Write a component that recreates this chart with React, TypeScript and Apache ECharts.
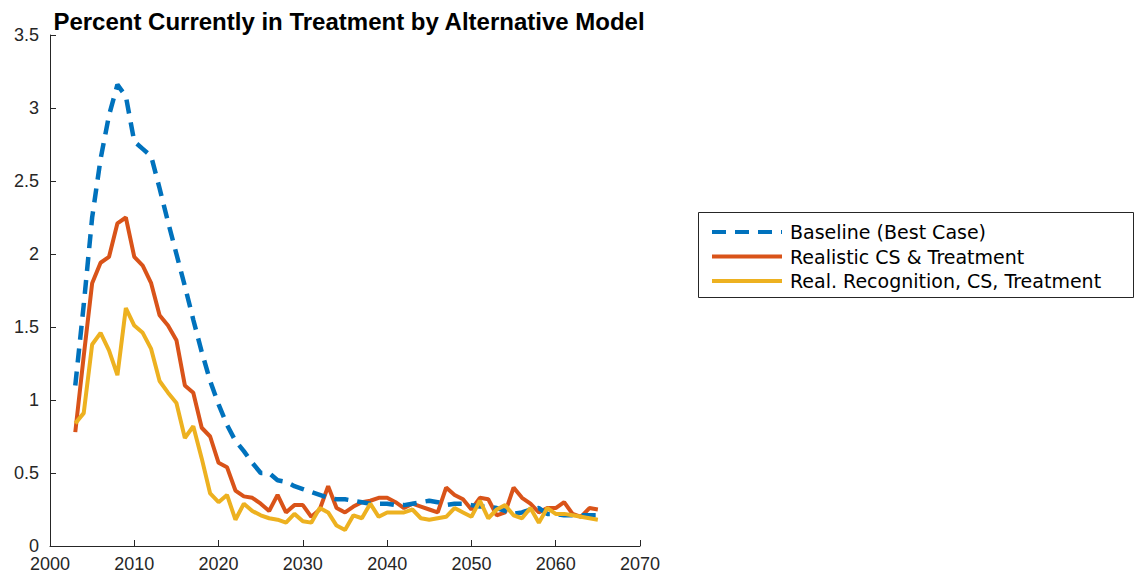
import React, { useEffect, useRef } from "react";
import * as echarts from "echarts";

const years: number[] = [];
for (let y = 2003; y <= 2065; y++) years.push(y);

const baseline = [
  1.1, 1.65, 2.25, 2.65, 2.95, 3.16, 3.08, 2.77, 2.72, 2.67,
  2.45, 2.22, 2.0, 1.78, 1.55, 1.33, 1.13, 0.97, 0.83, 0.72,
  0.65, 0.57, 0.5, 0.5, 0.45, 0.44, 0.41, 0.39, 0.37, 0.35,
  0.33, 0.32, 0.32, 0.31, 0.3, 0.29, 0.29, 0.29, 0.28, 0.28,
  0.29, 0.3, 0.31, 0.3, 0.28, 0.29, 0.29, 0.28, 0.27, 0.27,
  0.26, 0.24, 0.22, 0.23, 0.25, 0.26, 0.22, 0.22, 0.21, 0.21,
  0.21, 0.21, 0.21,
];

const realistic = [
  0.78, 1.3, 1.8, 1.94, 1.98, 2.21, 2.25, 1.98, 1.92, 1.8,
  1.58, 1.51, 1.41, 1.1, 1.05, 0.81, 0.75, 0.57, 0.54, 0.38,
  0.34, 0.33, 0.29, 0.24, 0.35, 0.23, 0.28, 0.28, 0.2, 0.25,
  0.41, 0.26, 0.23, 0.27, 0.3, 0.31, 0.33, 0.33, 0.3, 0.26,
  0.29, 0.27, 0.25, 0.23, 0.4, 0.35, 0.32, 0.25, 0.33, 0.32,
  0.21, 0.23, 0.4, 0.33, 0.29, 0.23, 0.26, 0.26, 0.3, 0.22,
  0.2, 0.26, 0.25,
];

const recognition = [
  0.84, 0.91, 1.38, 1.46, 1.34, 1.17, 1.63, 1.51, 1.46, 1.35,
  1.13, 1.05, 0.98, 0.74, 0.82, 0.6, 0.36, 0.3, 0.35, 0.18,
  0.29, 0.24, 0.21, 0.19, 0.18, 0.16, 0.22, 0.17, 0.16, 0.26,
  0.23, 0.14, 0.11, 0.21, 0.19, 0.29, 0.2, 0.23, 0.23, 0.23,
  0.25, 0.19, 0.18, 0.19, 0.2, 0.26, 0.23, 0.2, 0.31, 0.19,
  0.25, 0.28, 0.21, 0.19, 0.26, 0.16, 0.26, 0.22, 0.22, 0.21,
  0.2, 0.19, 0.18,
];

const seriesNames = [
  "Baseline (Best Case)",
  "Realistic CS & Treatment",
  "Real. Recognition, CS, Treatment",
];

const titleText = "Percent Currently in Treatment by Alternative Model";

const pair = (vals: number[]) => years.map((y, i) => [y, vals[i]]);

export default function App() {
  const ref = useRef<HTMLDivElement>(null);
  useEffect(() => {
    if (!ref.current) return;
    const chart = echarts.init(ref.current, null, { renderer: "svg" });
    const axisColor = "#262626";
    chart.setOption({
      animation: false,
      backgroundColor: "#ffffff",
      title: {
        text: titleText,
        left: 344,
        top: 4,
        textAlign: "center",
        textStyle: {
          fontFamily: "Liberation Sans",
          fontWeight: "bold",
          fontSize: 24,
          color: "#000000",
        },
      },
      grid: { left: 50, top: 35, width: 590, height: 511, containLabel: false },
      xAxis: {
        type: "value",
        min: 2000,
        max: 2070,
        interval: 10,
        axisLine: { show: true, lineStyle: { color: axisColor, width: 1 } },
        axisTick: { show: true, inside: true, length: 6, lineStyle: { color: axisColor } },
        splitLine: { show: false },
        axisLabel: {
          margin: 9,
          fontFamily: "Liberation Sans",
          fontSize: 18,
          color: axisColor,
          showMinLabel: true,
          showMaxLabel: true,
          formatter: (v: number) => String(v),
        },
      },
      yAxis: {
        type: "value",
        min: 0,
        max: 3.5,
        interval: 0.5,
        axisLine: { show: true, lineStyle: { color: axisColor, width: 1 } },
        axisTick: { show: true, inside: true, length: 6, lineStyle: { color: axisColor } },
        splitLine: { show: false },
        axisLabel: {
          margin: 11,
          fontFamily: "Liberation Sans",
          fontSize: 18,
          color: axisColor,
          formatter: (v: number) => String(v),
        },
      },
      legend: {
        orient: "vertical",
        left: 710,
        top: 222,
        itemWidth: 70,
        itemHeight: 14,
        itemGap: 4.5,
        padding: 0,
        data: seriesNames,
        itemStyle: { color: "transparent", borderWidth: 0, opacity: 0 },
        lineStyle: { width: 4, color: "inherit", type: "inherit" },
        textStyle: {
          fontFamily: "DejaVu Sans",
          fontSize: 19,
          color: "#000000",
          lineHeight: 20,
          padding: [0, 0, 0, 3],
        },
      },
      graphic: [
        {
          type: "rect",
          z: -1,
          shape: { x: 698.5, y: 212.5, width: 435, height: 85 },
          style: { fill: "#ffffff", stroke: axisColor, lineWidth: 1 },
        },
      ],
      series: [
        {
          name: seriesNames[0],
          type: "line",
          data: pair(baseline),
          symbol: "none",
          lineStyle: { color: "#0072BD", width: 4.5, type: [14, 9] },
          itemStyle: { color: "#0072BD" },
          z: 3,
        },
        {
          name: seriesNames[1],
          type: "line",
          data: pair(realistic),
          symbol: "none",
          lineStyle: { color: "#D95319", width: 4 },
          itemStyle: { color: "#D95319" },
          z: 2,
        },
        {
          name: seriesNames[2],
          type: "line",
          data: pair(recognition),
          symbol: "none",
          lineStyle: { color: "#EDB120", width: 4 },
          itemStyle: { color: "#EDB120" },
          z: 4,
        },
      ],
    });
    return () => chart.dispose();
  }, []);
  return (
    <div
      ref={ref}
      style={{ position: "fixed", left: 0, top: 0, width: 1135, height: 582 }}
    />
  );
}
